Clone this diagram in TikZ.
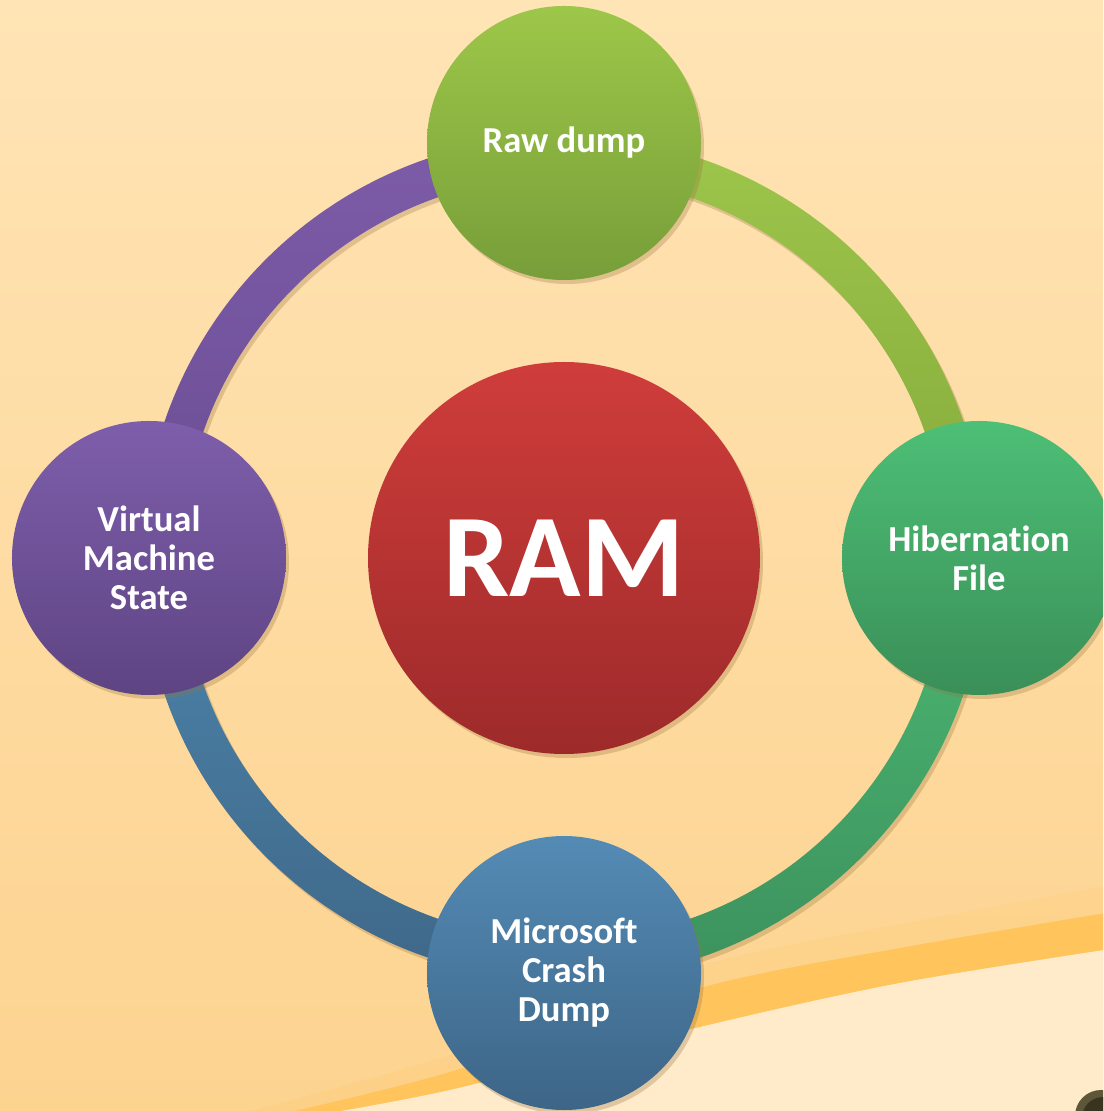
\documentclass[tikz,border=0pt]{standalone}
\usepackage{fontspec}
\setmainfont{Carlito}[RawFeature={-liga;-clig;-calt;-dlig}]
\definecolor{bgtop}{HTML}{FFE4B5}
\definecolor{bgbot}{HTML}{FDD390}
\definecolor{bandsoft}{HTML}{FFCB70}
\definecolor{band}{HTML}{FFC45C}
\definecolor{cream}{HTML}{FFEACA}
\definecolor{shadowc}{HTML}{9A7440}
\definecolor{btnout}{HTML}{5E5638}
\definecolor{btnin}{HTML}{39341F}
% circle and ring colours (top / bottom of each gradient)
\definecolor{rawT}{HTML}{9DC749}
\definecolor{rawB}{HTML}{779E39}
\definecolor{hibT}{HTML}{4DBF76}
\definecolor{hibB}{HTML}{3A8F58}
\definecolor{crT}{HTML}{548BB5}
\definecolor{crB}{HTML}{3D6587}
\definecolor{vmT}{HTML}{7E5EAB}
\definecolor{vmB}{HTML}{5E4483}
\definecolor{ramT}{HTML}{CF3D3B}
\definecolor{ramB}{HTML}{9D2A2A}
\definecolor{arcA}{HTML}{9DC64B}
\definecolor{arcAb}{HTML}{85A93B}
\definecolor{arcB}{HTML}{4CB873}
\definecolor{arcBb}{HTML}{3C915D}
\definecolor{arcC}{HTML}{4C84AC}
\definecolor{arcCb}{HTML}{3F6888}
\definecolor{arcD}{HTML}{7D5BA8}
\definecolor{arcDb}{HTML}{6A4E94}

\tikzset{
  softshadow/.style={preaction={fill=shadowc, fill opacity=0.3,
      transform canvas={xshift=1.5pt, yshift=-2pt}}},
  bubble/.style={circle, minimum size=137pt, inner sep=0pt, text=white,
      align=center, softshadow,
      font=\bfseries\fontsize{18.3}{19.5}\selectfont},
  hub/.style={circle, minimum size=196pt, inner sep=0pt, text=white,
      softshadow, top color=ramT, bottom color=ramB,
      font=\bfseries\fontsize{59}{60}\selectfont},
}

% one coloured piece of the ring, from angle #1 to angle #2
\newcommand\ringseg[4]{%
  \path[softshadow, top color=#3, bottom color=#4]
    ([shift={(#1:422)}]ring) arc[start angle=#1, end angle=#2, radius=422]
    -- ([shift={(#2:382)}]ring) arc[start angle=#2, end angle=#1, radius=382]
    -- cycle;}

\begin{document}
\begin{tikzpicture}[x=0.5pt, y=0.5pt]
\useasboundingbox (-564,-553) rectangle (539,558);
\clip (-564,-553) rectangle (539,558);

% background and the swoosh in the lower right
\shade[top color=bgtop, bottom color=bgbot] (-564,-553) rectangle (539,558);
\fill[bandsoft, opacity=0.25]
  plot[smooth] coordinates {(560,-325) (336,-366) (136,-408) (-114,-497) (-340,-560)}
  -- plot[smooth] coordinates {(-264,-560) (-114,-532) (136,-469) (336,-425) (560,-389)}
  -- cycle;
\fill[band]
  plot[smooth] coordinates {(560,-352) (336,-390) (136,-430) (-114,-514) (-300,-560)}
  -- plot[smooth] coordinates {(-264,-560) (-114,-532) (136,-469) (336,-425) (560,-389)}
  -- cycle;
\fill[cream]
  plot[smooth] coordinates {(-264,-560) (-114,-532) (136,-469) (336,-425) (560,-389)}
  -- (560,-560) -- cycle;
\fill[btnout] (537,-558) circle (26);
\fill[btnin] (539,-560) circle (21);

% the ring joining the four outer circles
\coordinate (ring) at (0,0);
\ringseg{90}{0}{arcA}{arcAb}
\ringseg{0}{-90}{arcB}{arcBb}
\ringseg{-90}{-180}{arcC}{arcCb}
\ringseg{180}{90}{arcD}{arcDb}

% centre and outer circles
\node[hub] (ram) at (ring) {RAM};
\node[bubble, top color=rawT, bottom color=rawB] (raw) at (0,415) {Raw dump};
\node[bubble, top color=hibT, bottom color=hibB] (hib) at (415,0) {Hibernat\kern0pt ion\\File};
\node[bubble, top color=crT, bottom color=crB] (crash) at (0,-415) {Microsoft\\Crash\\Dump};
\node[bubble, top color=vmT, bottom color=vmB] (vm) at (-415,0) {Virtual\\Machine\\State};
\end{tikzpicture}
\end{document}
